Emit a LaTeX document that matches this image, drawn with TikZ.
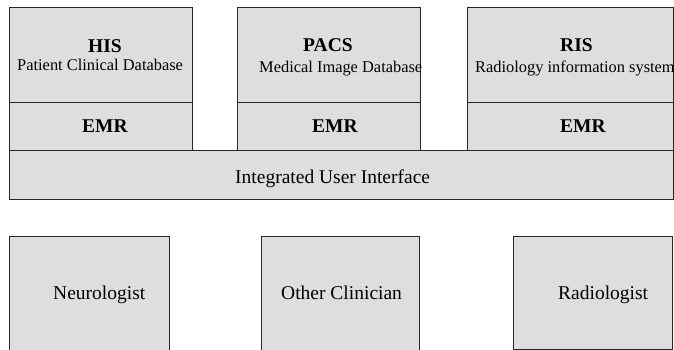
\documentclass[tikz,border=0pt]{standalone}
\usepackage{fontspec}
\setmainfont{Liberation Serif}
\begin{document}
\begin{tikzpicture}[x=1pt,y=-1pt,
  box/.style={draw=black!85, line width=0.9pt, fill=black!13, inner sep=0pt, outer sep=0pt},
  lbl/.style={anchor=base west, inner sep=0pt, font=\fontsize{19.5}{22}\selectfont},
  ttl/.style={lbl, font=\fontsize{19.5}{22}\selectfont\bfseries},
  sub/.style={anchor=base west, inner sep=0pt, font=\fontsize{16.4}{19}\selectfont}]
\useasboundingbox (0,0) rectangle (674,350);

% source systems
\node[box, minimum width=183pt, minimum height=95pt] (his)  at (100.5,54.5) {};
\node[box, minimum width=183pt, minimum height=95pt] (pacs) at (328.5,54.5) {};
\node[box, minimum width=206pt, minimum height=95pt] (ris)  at (570,54.5) {};
\node[box, minimum width=183pt, minimum height=48pt] (emr1) at (100.5,126) {};
\node[box, minimum width=183pt, minimum height=48pt] (emr2) at (328.5,126) {};
\node[box, minimum width=206pt, minimum height=48pt] (emr3) at (570,126) {};

% shared interface
\node[box, minimum width=664pt, minimum height=49pt] (ui) at (341,174.5) {};

% users
\node[box, minimum width=160pt, minimum height=116pt] (neuro) at (89,294) {};
\node[box, minimum width=158pt, minimum height=116pt] (clin)  at (340,294) {};
\node[box, minimum width=159pt, minimum height=113pt] (radio) at (592.5,292.5) {};

% labels
\node[ttl] (t1) at (88,53) {HIS};
\node[sub] (s1) at (17,71) {Patient Clinical Database};
\node[ttl] (t2) at (303,52) {PACS};
\node[sub] (s2) at (259,73) {Medical Image Database};
\node[ttl] (t3) at (560,52) {RIS};
\node[sub] (s3) at (475,73) {Radiology information system};

\node[ttl] (e1) at (82,132) {EMR};
\node[ttl] (e2) at (312,132) {EMR};
\node[ttl] (e3) at (560,132) {EMR};

\node[lbl] (u) at (235,183) {Integrated User Interface};

\node[lbl] (n1) at (53,299) {Neurologist};
\node[lbl] (n2) at (281,299) {Other Clinician};
\node[lbl] (n3) at (558,299) {Radiologist};
\end{tikzpicture}
\end{document}
